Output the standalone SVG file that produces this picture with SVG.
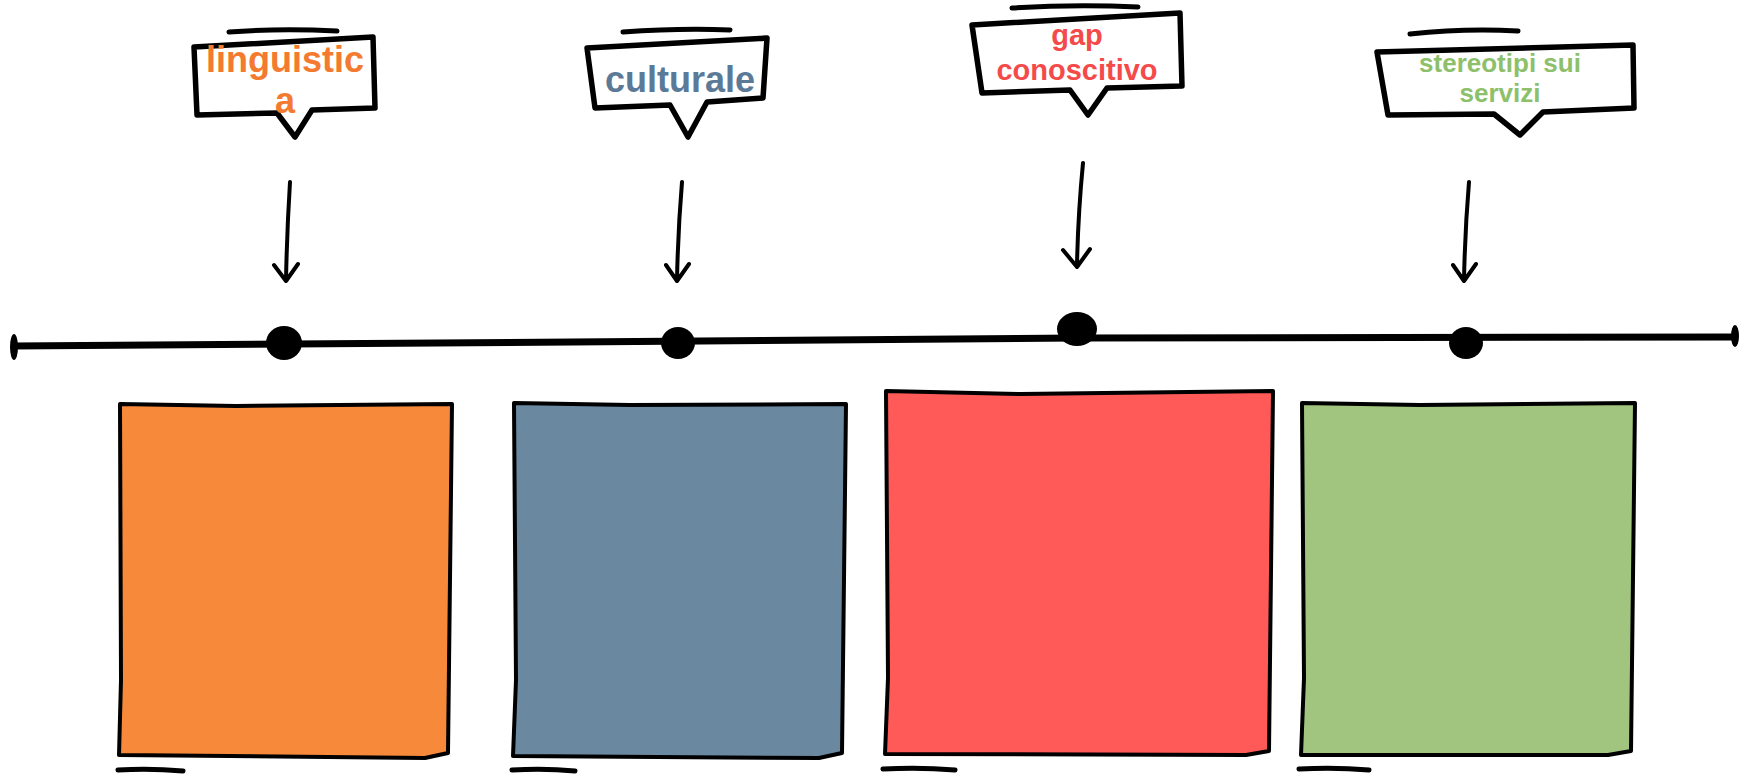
<svg xmlns="http://www.w3.org/2000/svg" width="1752" height="774" viewBox="0 0 1752 774">
<style>
.bubble{fill:#fff;stroke:#000;stroke-width:5.5;stroke-linejoin:round;stroke-linecap:round}
.top{fill:none;stroke:#000;stroke-width:5;stroke-linecap:round}
.box{stroke:#000;stroke-width:4;stroke-linejoin:round}
.ul{fill:none;stroke:#000;stroke-width:5;stroke-linecap:round}
.arr{fill:none;stroke:#000;stroke-width:4;stroke-linecap:round;stroke-linejoin:round}
.t{font-family:"Liberation Sans",Arial,sans-serif;font-weight:bold;text-anchor:middle}
</style>
<rect width="1752" height="774" fill="#fff"/>
<g id="connectors">
  <path d="M14,346 L700,341 L1077,338 L1735,337" fill="none" stroke="#000" stroke-width="7"/>
  <ellipse cx="14" cy="347" rx="4" ry="13" fill="#000"/>
  <ellipse cx="1735" cy="336" rx="4" ry="11" fill="#000"/>
  <path class="arr" d="M290,182 Q287,230 286,280 M274,265 L286,281 L298,264"/>
  <path class="arr" d="M682,182 Q678,230 677,280 M666,265 L677,281 L689,264"/>
  <path class="arr" d="M1083,163 Q1078,215 1077,265 M1063,250 L1077,267 L1090,249"/>
  <path class="arr" d="M1469,182 Q1465,230 1464,280 M1453,265 L1464,281 L1476,264"/>
</g>
<g id="dot1"><ellipse cx="284" cy="343" rx="18" ry="17" fill="#000"/></g>
<g id="dot2"><ellipse cx="678" cy="343" rx="17" ry="16" fill="#000"/></g>
<g id="dot3"><ellipse cx="1077" cy="329" rx="20" ry="17" fill="#000"/></g>
<g id="dot4"><ellipse cx="1466" cy="343" rx="17" ry="16" fill="#000"/></g>

<g id="callout1">
  <path class="top" d="M229,32 Q280,28 337,31"/>
  <path class="bubble" d="M194,47 L373,37 L375,108 L312,110 L295,137 L277,113 L197,115 Z"/>
  <text class="t" x="285" y="72" font-size="36" fill="#F47A30">linguistic</text>
  <text class="t" x="285" y="113" font-size="36" fill="#F47A30">a</text>
</g>
<g id="callout2">
  <path class="top" d="M623,32 Q680,28 730,30"/>
  <path class="bubble" d="M587,48 L767,38 L763,98 L707,102 L688,137 L670,105 L595,108 Z"/>
  <text class="t" x="680" y="92" font-size="36" fill="#5A7A98">culturale</text>
</g>
<g id="callout3">
  <path class="top" d="M1012,8 Q1075,4 1138,7"/>
  <path class="bubble" d="M972,25 L1180,13 L1182,86 L1107,88 L1088,115 L1070,90 L982,93 Z"/>
  <text class="t" x="1077" y="45" font-size="29" fill="#F54A4A">gap</text>
  <text class="t" x="1077" y="80" font-size="29" fill="#F54A4A">conoscitivo</text>
</g>
<g id="callout4">
  <path class="top" d="M1410,34 Q1465,28 1518,31"/>
  <path class="bubble" d="M1377,52 L1633,45 L1634,108 L1543,112 L1520,135 L1494,114 L1388,115 Z"/>
  <text class="t" x="1500" y="72" font-size="26" fill="#8DC06A">stereotipi sui</text>
  <text class="t" x="1500" y="102" font-size="26" fill="#8DC06A">servizi</text>
</g>

<g id="box1">
  <path class="box" fill="#F6893A" d="M120,404 L236,406 L452,404 L448,753 L425,758 L119,755 L121,680 Z"/>
  <path class="ul" d="M118,770 Q150,768 183,771"/>
</g>
<g id="box2">
  <path class="box" fill="#6A88A0" d="M514,403 L630,405 L846,404 L842,753 L819,758 L513,756 L516,680 Z"/>
  <path class="ul" d="M512,770 Q545,768 575,771"/>
</g>
<g id="box3">
  <path class="box" fill="#FF5A57" d="M886,391 L1020,394 L1273,391 L1269,751 L1246,755 L885,754 L888,678 Z"/>
  <path class="ul" d="M883,769 Q920,767 955,770"/>
</g>
<g id="box4">
  <path class="box" fill="#A1C57E" d="M1302,403 L1420,405 L1635,403 L1631,751 L1608,755 L1301,755 L1304,678 Z"/>
  <path class="ul" d="M1299,769 Q1335,767 1369,770"/>
</g>
</svg>
